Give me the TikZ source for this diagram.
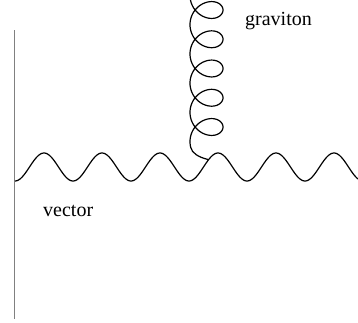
\documentclass[tikz,border=0pt]{standalone}
\usepackage{fontspec}
\setmainfont{Liberation Serif}
\begin{document}
\begin{tikzpicture}[x=1pt,y=-1pt,
  wavy/.style={line width=1.2pt,black,line join=round},
  wall/.style={line width=1.6pt,black!50},
  lbl/.style={anchor=base west,inner sep=0pt,font=\fontsize{20}{24}\selectfont}]
\useasboundingbox (0,0) rectangle (358,322);
\coordinate (wtop) at (14.5,30);
\coordinate (wbot) at (14.5,319);
\coordinate (gend) at (208,159.5);
\draw[wall] (wtop) -- (wbot);
% vector (photon) line
\draw[wavy] plot[domain=15:358,samples=300,smooth] (\x,{167+14*cos(6.206897*(\x-15))});
% graviton (coil)
\draw[wavy] plot[domain=0.2:31.72,samples=500,smooth,variable=\t]
  ({206.5-16.5*cos(\t r)},{-4.62+4.655*\t+15*sin(\t r)})
  .. controls (192,153) and (198,157) .. (gend);
\node[lbl] (grav) at (245,25) {graviton};
\node[lbl] (vec) at (43,216) {vector};
\end{tikzpicture}
\end{document}
